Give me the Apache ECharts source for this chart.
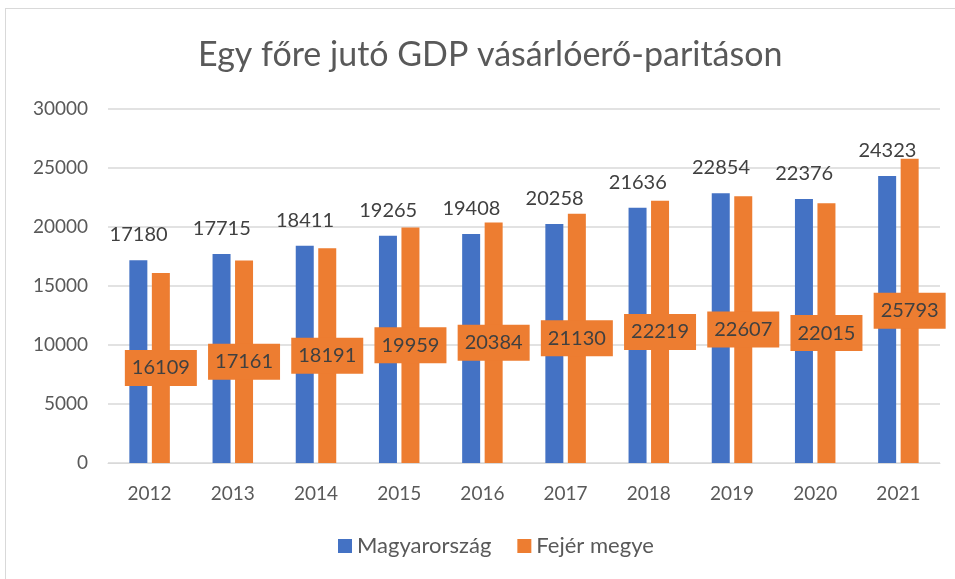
<!DOCTYPE html>
<html lang="hu">
<head>
    <meta charset="UTF-8">
    <title>Egy főre jutó GDP vásárlóerő-paritáson</title>
    <script src="https://cdn.jsdelivr.net/npm/echarts@6/dist/echarts.min.js"></script>
    <style>
        html, body { margin: 0; padding: 0; background: #fff; }
        #frame { position: absolute; left: 5px; top: 8px; width: 960px; height: 580px; border: 1px solid #d9d9d9; box-sizing: border-box; }
    </style>
</head>
<body>
    <div id="frame"></div>
    <div id="main" style="position:absolute;left:0;top:0;width: 955px;height:579px;"></div>
    <script type="text/javascript">
        // adatok
        var years = ['2012', '2013', '2014', '2015', '2016', '2017', '2018', '2019', '2020', '2021'];
        var magyarorszag = [17180, 17715, 18411, 19265, 19408, 20258, 21636, 22854, 22376, 24323];
        var fejer = [16109, 17161, 18191, 19959, 20384, 21130, 22219, 22607, 22015, 25793];

        var font = 'Lato, "Open Sans", sans-serif';
        var myChart = echarts.init(document.getElementById('main'));
        var option = {
            textStyle: { fontFamily: font },
            title: {
                text: 'Egy főre jutó GDP vásárlóerő-paritáson',
                left: 193,
                top: 33,
                textStyle: { fontFamily: font, fontSize: 34, fontWeight: 'normal', color: '#595959' }
            },
            legend: {
                data: ['Magyarország', 'Fejér megye'],
                bottom: 17,
                left: 333,
                itemWidth: 14,
                itemHeight: 14,
                itemGap: 26,
                icon: 'rect',
                textStyle: { fontFamily: font, fontSize: 22, color: '#595959' }
            },
            grid: {
                left: 108,
                right: 15,
                top: 109,
                bottom: 116
            },
            xAxis: {
                type: 'category',
                data: years,
                axisTick: { show: false },
                axisLine: { lineStyle: { color: '#d9d9d9' } },
                axisLabel: { fontFamily: font, fontSize: 19, color: '#595959', margin: 21 }
            },
            yAxis: {
                type: 'value',
                min: 0,
                max: 30000,
                interval: 5000,
                axisLine: { show: false },
                axisTick: { show: false },
                splitLine: { lineStyle: { color: '#d9d9d9', width: 1.5 } },
                axisLabel: {
                    fontFamily: font, fontSize: 19, color: '#595959', margin: 20,
                    formatter: function (v) { return String(v); }
                }
            },
            series: [
                {
                    name: 'Magyarország',
                    type: 'bar',
                    data: magyarorszag,
                    barWidth: 18,
                    barGap: '25%',
                    itemStyle: { color: '#4472C4' }
                },
                {
                    name: 'Fejér megye',
                    type: 'bar',
                    data: fejer,
                    barWidth: 18,
                    itemStyle: { color: '#ED7D31' },
                    label: {
                        show: true,
                        position: 'inside',
                        fontFamily: font,
                        fontSize: 20,
                        color: '#404040',
                        backgroundColor: '#ED7D31',
                        padding: [8, 7, 8, 7]
                    }
                },
                {
                    // a kék oszlopok feliratai külön rétegben, hogy a narancs oszlop ne takarja
                    name: 'Magyarország címke',
                    type: 'line',
                    data: magyarorszag,
                    symbol: 'circle',
                    symbolSize: 1,
                    showSymbol: true,
                    lineStyle: { width: 0, color: 'transparent' },
                    itemStyle: { color: 'transparent', borderWidth: 0 },
                    silent: true,
                    zlevel: 1,
                    label: {
                        show: true,
                        position: 'top',
                        distance: 15,
                        offset: [-11, 0],
                        fontFamily: font,
                        fontSize: 20,
                        color: '#404040'
                    }
                }
            ]
        };
        myChart.setOption(option);
    </script>
</body>
</html>
